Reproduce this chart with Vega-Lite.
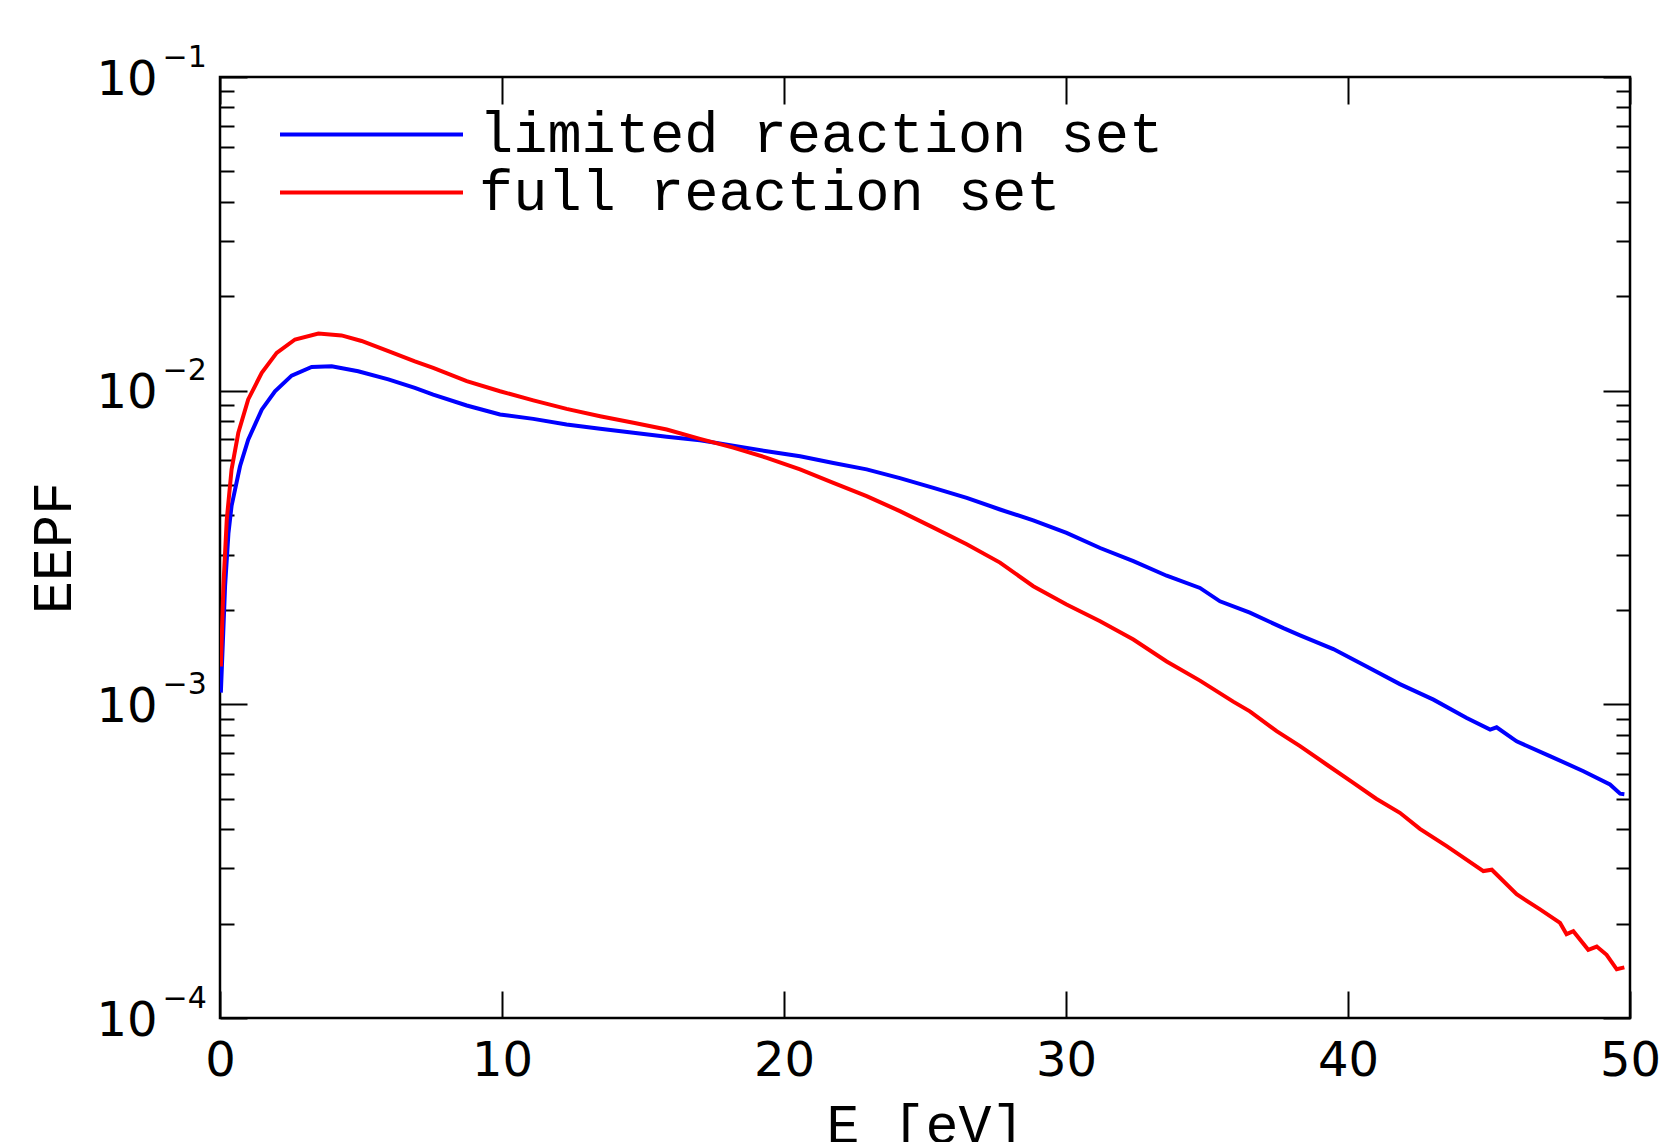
{
  "$schema": "https://vega.github.io/schema/vega-lite/v6.json",
  "autosize": {"type": "none"},
  "padding": {"left": 220, "top": 77, "right": 30, "bottom": 124},
  "width": 1410,
  "height": 941,
  "background": "white",
  "config": {
    "view": {"stroke": "black", "strokeWidth": 2.5},
    "axis": {"domain": false, "grid": false, "tickColor": "black", "tickWidth": 2, "labelColor": "black", "labelFont": "DejaVu Sans", "labelFontSize": 48, "titleColor": "black", "titleFont": "Liberation Mono", "titleFontSize": 55, "titleFontWeight": "normal"}
  },
  "data": {"values": [
    {"E": 0.03, "EEPF": 0.00109, "series": "limited reaction set"},
    {"E": 0.18, "EEPF": 0.00238, "series": "limited reaction set"},
    {"E": 0.30, "EEPF": 0.00352, "series": "limited reaction set"},
    {"E": 0.41, "EEPF": 0.00429, "series": "limited reaction set"},
    {"E": 0.71, "EEPF": 0.00574, "series": "limited reaction set"},
    {"E": 1.0, "EEPF": 0.00698, "series": "limited reaction set"},
    {"E": 1.48, "EEPF": 0.0087, "series": "limited reaction set"},
    {"E": 1.95, "EEPF": 0.00996, "series": "limited reaction set"},
    {"E": 2.54, "EEPF": 0.01117, "series": "limited reaction set"},
    {"E": 3.25, "EEPF": 0.0119, "series": "limited reaction set"},
    {"E": 3.96, "EEPF": 0.01197, "series": "limited reaction set"},
    {"E": 4.9, "EEPF": 0.01153, "series": "limited reaction set"},
    {"E": 5.97, "EEPF": 0.01086, "series": "limited reaction set"},
    {"E": 6.91, "EEPF": 0.0102, "series": "limited reaction set"},
    {"E": 7.56, "EEPF": 0.00972, "series": "limited reaction set"},
    {"E": 8.75, "EEPF": 0.00897, "series": "limited reaction set"},
    {"E": 9.93, "EEPF": 0.0084, "series": "limited reaction set"},
    {"E": 11.11, "EEPF": 0.00813, "series": "limited reaction set"},
    {"E": 12.29, "EEPF": 0.0078, "series": "limited reaction set"},
    {"E": 13.48, "EEPF": 0.00756, "series": "limited reaction set"},
    {"E": 14.66, "EEPF": 0.00734, "series": "limited reaction set"},
    {"E": 15.84, "EEPF": 0.00713, "series": "limited reaction set"},
    {"E": 17.02, "EEPF": 0.00695, "series": "limited reaction set"},
    {"E": 18.2, "EEPF": 0.00668, "series": "limited reaction set"},
    {"E": 19.39, "EEPF": 0.00641, "series": "limited reaction set"},
    {"E": 20.57, "EEPF": 0.00618, "series": "limited reaction set"},
    {"E": 21.75, "EEPF": 0.00588, "series": "limited reaction set"},
    {"E": 22.93, "EEPF": 0.00561, "series": "limited reaction set"},
    {"E": 24.11, "EEPF": 0.00526, "series": "limited reaction set"},
    {"E": 25.3, "EEPF": 0.0049, "series": "limited reaction set"},
    {"E": 26.48, "EEPF": 0.00455, "series": "limited reaction set"},
    {"E": 27.66, "EEPF": 0.00418, "series": "limited reaction set"},
    {"E": 28.84, "EEPF": 0.00386, "series": "limited reaction set"},
    {"E": 30.02, "EEPF": 0.00352, "series": "limited reaction set"},
    {"E": 31.21, "EEPF": 0.00315, "series": "limited reaction set"},
    {"E": 32.39, "EEPF": 0.00286, "series": "limited reaction set"},
    {"E": 33.57, "EEPF": 0.00257, "series": "limited reaction set"},
    {"E": 34.75, "EEPF": 0.00235, "series": "limited reaction set"},
    {"E": 35.46, "EEPF": 0.00213, "series": "limited reaction set"},
    {"E": 36.52, "EEPF": 0.00196, "series": "limited reaction set"},
    {"E": 37.71, "EEPF": 0.00175, "series": "limited reaction set"},
    {"E": 38.3, "EEPF": 0.00166, "series": "limited reaction set"},
    {"E": 39.48, "EEPF": 0.0015, "series": "limited reaction set"},
    {"E": 40.66, "EEPF": 0.00132, "series": "limited reaction set"},
    {"E": 41.84, "EEPF": 0.00116, "series": "limited reaction set"},
    {"E": 43.03, "EEPF": 0.001035, "series": "limited reaction set"},
    {"E": 44.21, "EEPF": 0.000905, "series": "limited reaction set"},
    {"E": 45.04, "EEPF": 0.000831, "series": "limited reaction set"},
    {"E": 45.27, "EEPF": 0.000845, "series": "limited reaction set"},
    {"E": 45.98, "EEPF": 0.000762, "series": "limited reaction set"},
    {"E": 47.16, "EEPF": 0.000684, "series": "limited reaction set"},
    {"E": 48.35, "EEPF": 0.000612, "series": "limited reaction set"},
    {"E": 49.29, "EEPF": 0.000555, "series": "limited reaction set"},
    {"E": 49.65, "EEPF": 0.000519, "series": "limited reaction set"},
    {"E": 49.8, "EEPF": 0.000517, "series": "limited reaction set"},
    {"E": 0.03, "EEPF": 0.00132, "series": "full reaction set"},
    {"E": 0.12, "EEPF": 0.00238, "series": "full reaction set"},
    {"E": 0.24, "EEPF": 0.00388, "series": "full reaction set"},
    {"E": 0.41, "EEPF": 0.00561, "series": "full reaction set"},
    {"E": 0.65, "EEPF": 0.00734, "series": "full reaction set"},
    {"E": 1.0, "EEPF": 0.00938, "series": "full reaction set"},
    {"E": 1.48, "EEPF": 0.0114, "series": "full reaction set"},
    {"E": 2.01, "EEPF": 0.0132, "series": "full reaction set"},
    {"E": 2.66, "EEPF": 0.01456, "series": "full reaction set"},
    {"E": 3.49, "EEPF": 0.0152, "series": "full reaction set"},
    {"E": 4.31, "EEPF": 0.015, "series": "full reaction set"},
    {"E": 5.02, "EEPF": 0.0144, "series": "full reaction set"},
    {"E": 5.97, "EEPF": 0.01337, "series": "full reaction set"},
    {"E": 6.91, "EEPF": 0.0124, "series": "full reaction set"},
    {"E": 7.56, "EEPF": 0.01183, "series": "full reaction set"},
    {"E": 8.75, "EEPF": 0.01072, "series": "full reaction set"},
    {"E": 9.93, "EEPF": 0.00996, "series": "full reaction set"},
    {"E": 11.11, "EEPF": 0.00931, "series": "full reaction set"},
    {"E": 12.29, "EEPF": 0.00875, "series": "full reaction set"},
    {"E": 13.48, "EEPF": 0.00829, "series": "full reaction set"},
    {"E": 14.66, "EEPF": 0.0079, "series": "full reaction set"},
    {"E": 15.84, "EEPF": 0.00752, "series": "full reaction set"},
    {"E": 17.02, "EEPF": 0.00702, "series": "full reaction set"},
    {"E": 18.2, "EEPF": 0.00658, "series": "full reaction set"},
    {"E": 19.39, "EEPF": 0.00611, "series": "full reaction set"},
    {"E": 20.57, "EEPF": 0.00561, "series": "full reaction set"},
    {"E": 21.75, "EEPF": 0.00508, "series": "full reaction set"},
    {"E": 22.93, "EEPF": 0.00461, "series": "full reaction set"},
    {"E": 24.11, "EEPF": 0.00413, "series": "full reaction set"},
    {"E": 25.3, "EEPF": 0.00366, "series": "full reaction set"},
    {"E": 26.48, "EEPF": 0.00324, "series": "full reaction set"},
    {"E": 27.66, "EEPF": 0.00283, "series": "full reaction set"},
    {"E": 28.84, "EEPF": 0.00238, "series": "full reaction set"},
    {"E": 30.02, "EEPF": 0.00208, "series": "full reaction set"},
    {"E": 31.21, "EEPF": 0.00184, "series": "full reaction set"},
    {"E": 32.39, "EEPF": 0.00161, "series": "full reaction set"},
    {"E": 33.57, "EEPF": 0.00137, "series": "full reaction set"},
    {"E": 34.75, "EEPF": 0.00119, "series": "full reaction set"},
    {"E": 35.93, "EEPF": 0.00102, "series": "full reaction set"},
    {"E": 36.52, "EEPF": 0.00095, "series": "full reaction set"},
    {"E": 37.47, "EEPF": 0.000821, "series": "full reaction set"},
    {"E": 38.3, "EEPF": 0.000736, "series": "full reaction set"},
    {"E": 39.24, "EEPF": 0.000643, "series": "full reaction set"},
    {"E": 40.19, "EEPF": 0.000562, "series": "full reaction set"},
    {"E": 41.0, "EEPF": 0.0005, "series": "full reaction set"},
    {"E": 41.84, "EEPF": 0.000451, "series": "full reaction set"},
    {"E": 42.55, "EEPF": 0.000401, "series": "full reaction set"},
    {"E": 43.5, "EEPF": 0.000353, "series": "full reaction set"},
    {"E": 44.8, "EEPF": 0.000294, "series": "full reaction set"},
    {"E": 45.1, "EEPF": 0.000297, "series": "full reaction set"},
    {"E": 45.98, "EEPF": 0.000248, "series": "full reaction set"},
    {"E": 46.81, "EEPF": 0.000222, "series": "full reaction set"},
    {"E": 47.52, "EEPF": 0.000201, "series": "full reaction set"},
    {"E": 47.75, "EEPF": 0.000185, "series": "full reaction set"},
    {"E": 47.99, "EEPF": 0.000189, "series": "full reaction set"},
    {"E": 48.52, "EEPF": 0.000165, "series": "full reaction set"},
    {"E": 48.82, "EEPF": 0.000169, "series": "full reaction set"},
    {"E": 49.17, "EEPF": 0.000159, "series": "full reaction set"},
    {"E": 49.53, "EEPF": 0.000143, "series": "full reaction set"},
    {"E": 49.8, "EEPF": 0.000145, "series": "full reaction set"}
  ]},
  "layer": [
    {
      "mark": {"type": "line", "strokeWidth": 4, "clip": true},
      "encoding": {
        "x": {"field": "E", "type": "quantitative", "scale": {"domain": [0, 50], "nice": false, "zero": false},
          "axis": {"orient": "bottom", "values": [0, 10, 20, 30, 40, 50], "tickSize": -27, "labelPadding": 46, "labelFlush": false, "labelOverlap": false, "title": "E [eV]", "titlePadding": 14}},
        "y": {"field": "EEPF", "type": "quantitative", "scale": {"type": "log", "domain": [0.0001, 0.1], "nice": false},
          "axis": {"orient": "left",
            "values": [0.0001, 0.0002, 0.0003, 0.0004, 0.0005, 0.0006, 0.0007, 0.0008, 0.0009, 0.001, 0.002, 0.003, 0.004, 0.005, 0.006, 0.007, 0.008, 0.009, 0.01, 0.02, 0.03, 0.04, 0.05, 0.06, 0.07, 0.08, 0.09, 0.1],
            "tickSize": {"condition": {"test": "datum.value == 0.1 || datum.value == 0.01 || datum.value == 0.001 || datum.value == 0.0001", "value": -27}, "value": -14},
            "labelExpr": "(datum.value == 0.1 || datum.value == 0.01 || datum.value == 0.001 || datum.value == 0.0001) ? '10' : ''",
            "labelOverlap": false, "labelFlush": false, "labelPadding": 90, "labelBaseline": "middle", "labelOffset": 3,
            "title": "EEPF", "titlePadding": 13}},
        "color": {"field": "series", "type": "nominal",
          "scale": {"domain": ["limited reaction set", "full reaction set"], "range": ["#0000ff", "#ff0000"]},
          "legend": {"orient": "none", "legendX": 123, "legendY": 29, "title": null, "padding": 0,
            "symbolType": "M-3.66,0H3.66", "symbolSize": 2500, "symbolStrokeWidth": 4,
            "labelFont": "Liberation Mono", "labelFontSize": 57, "labelColor": "black", "labelOffset": 79, "rowPadding": 0, "labelLimit": 1200}}
      }
    },
    {
      "mark": {"type": "line", "strokeOpacity": 0},
      "encoding": {
        "x": {"field": "E", "type": "quantitative", "scale": {"domain": [0, 50], "nice": false, "zero": false},
          "axis": {"orient": "top", "values": [0, 10, 20, 30, 40, 50], "tickSize": -27, "labels": false, "title": null}},
        "y": {"field": "EEPF", "type": "quantitative", "scale": {"type": "log", "domain": [0.0001, 0.1], "nice": false},
          "axis": {"orient": "right",
            "values": [0.0001, 0.0002, 0.0003, 0.0004, 0.0005, 0.0006, 0.0007, 0.0008, 0.0009, 0.001, 0.002, 0.003, 0.004, 0.005, 0.006, 0.007, 0.008, 0.009, 0.01, 0.02, 0.03, 0.04, 0.05, 0.06, 0.07, 0.08, 0.09, 0.1],
            "tickSize": {"condition": {"test": "datum.value == 0.1 || datum.value == 0.01 || datum.value == 0.001 || datum.value == 0.0001", "value": -27}, "value": -14},
            "labels": false, "title": null}},
        "detail": {"field": "series", "type": "nominal"}
      }
    },
    {
      "mark": {"type": "line", "strokeOpacity": 0},
      "encoding": {
        "x": {"field": "E", "type": "quantitative", "scale": {"domain": [0, 50], "nice": false, "zero": false}, "axis": null},
        "y": {"field": "EEPF", "type": "quantitative", "scale": {"type": "log", "domain": [0.0001, 0.1], "nice": false},
          "axis": {"orient": "left", "values": [0.0001, 0.001, 0.01, 0.1], "ticks": false, "tickSize": 0,
            "labelExpr": "datum.value == 0.1 ? '−1' : datum.value == 0.01 ? '−2' : datum.value == 0.001 ? '−3' : '−4'",
            "labelFontSize": 30, "labelAlign": "left", "labelBaseline": "middle", "labelPadding": 58, "labelOffset": -20,
            "labelOverlap": false, "labelFlush": false, "title": null}},
        "detail": {"field": "series", "type": "nominal"}
      }
    }
  ],
  "resolve": {"axis": {"x": "independent", "y": "independent"}}
}
